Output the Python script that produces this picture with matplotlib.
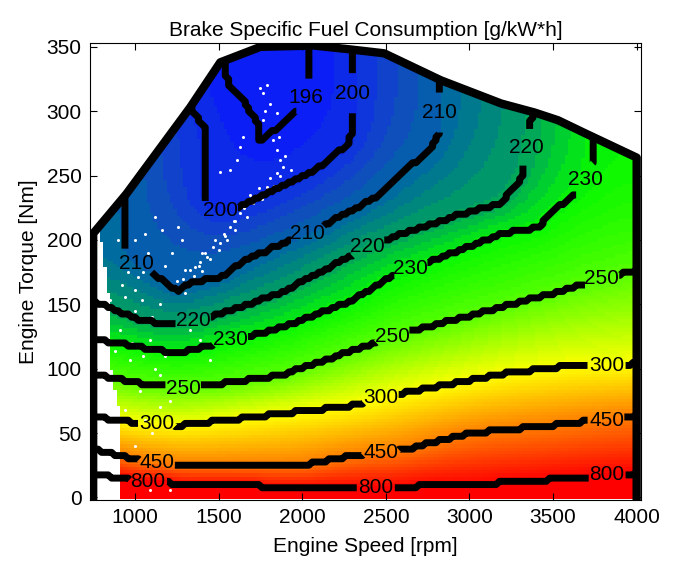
import numpy as np
import matplotlib as mpl
import matplotlib.pyplot as plt
import matplotlib.font_manager as fm
from matplotlib.colors import LinearSegmentedColormap, Normalize
from matplotlib.patches import Polygon

mpl.use('Agg')

# contour levels of the map, g/kWh
levels = [196, 200, 210, 220, 230, 250, 300, 450, 800]

# contour lines: (speed rpm, torque Nm)
line_196 = [(1540, 332), (1570, 319), (1670, 306), (1730, 291), (1750, 278), (1850, 288),
            (1990, 303), (2040, 317), (2040, 348)]
line_200 = [(1350, 301), (1430, 285), (1430, 229), (1510, 222), (1610, 226), (1790, 236),
            (2070, 254), (2270, 275), (2310, 288), (2310, 342)]
line_210 = [(950, 236), (950, 192), (1000, 182), (1100, 176), (1250, 161), (1330, 167),
            (1530, 172), (1620, 182), (1800, 193), (2030, 205), (2470, 236), (2590, 252),
            (2770, 272), (2830, 288), (2820, 324)]
line_220 = [(750, 153), (1030, 138), (1210, 134), (1390, 138), (1870, 159), (2400, 196),
            (2890, 218), (3190, 229), (3310, 249), (3330, 264), (3370, 295)]
line_230 = [(750, 123), (1030, 117), (1250, 112), (1570, 122), (1870, 132), (2290, 153),
            (2490, 169), (2890, 190), (3190, 205), (3410, 210), (3490, 223), (3670, 239),
            (3730, 260), (3730, 280)]
line_250 = [(750, 96), (1030, 89), (1270, 85.5), (1570, 89.5), (1870, 95), (2290, 114),
            (2590, 127.5), (2890, 137.7), (3190, 148), (3490, 158.7), (4000, 177)]
line_300 = [(750, 63), (1030, 57.5), (1270, 56), (1870, 65), (2290, 71.5), (2590, 81),
            (2890, 88.7), (3190, 96), (3490, 101), (4000, 104)]
line_450 = [(750, 38), (1030, 29), (1210, 26), (2030, 26), (2290, 32.7), (2590, 36.5),
            (2990, 50), (3490, 56), (4000, 64)]
line_800 = [(750, 19), (1000, 13), (1500, 9), (2500, 8), (3000, 10), (3500, 14), (4000, 19)]
contour_lines = [line_196, line_200, line_210, line_220, line_230,
                 line_250, line_300, line_450, line_800]

# best point inside the 196 island
best_speed, best_torque, best_bsfc = 1800, 330, 193

# full load curve
wot_speed = [750, 950, 1330, 1510, 1750, 2070, 2290, 2490, 2830, 3190, 3390, 3530, 3690, 4000]
wot_torque = [205, 236, 303, 338, 350, 351, 348, 345, 324, 306, 299, 293, 283, 264]

# low speed edge of the measured map
edge_torque = [0, 44, 62, 75, 99, 122, 138, 169, 200, 240]
edge_speed = [910, 900, 920, 890, 860, 850, 860, 830, 800, 760]

# measured operating points (white dots)
dots_speed = [1330, 1432, 1468, 1510, 1570, 1630, 1708, 1708, 1792, 1852, 1888, 1930, 1870, 1852,
              1828, 1768, 1810, 1852, 1768, 1750, 1648, 1630, 1612, 1570, 1510, 1300, 1360,
              1300, 1018, 1000, 940, 1042, 1120, 1258, 1282, 1162, 1060, 1000, 898, 850, 910,
              1030, 880, 970, 1090, 1180, 910, 1030, 1150, 1270, 940, 1060, 1210, 880, 970,
              1090, 1210, 1390, 1330, 1450, 1390, 1540, 1600, 1400, 1250,
              1290, 1310, 1350, 1380, 1400, 1420, 1450, 1480, 1500, 1530, 1550, 1590, 1600,
              1650, 1670, 1690, 1740, 1760, 1810, 1830, 1870, 1900, 1860, 1780, 1790, 1750,
              1100, 1150, 1180, 1220, 1080, 1050, 960, 920, 1000, 1120, 1050, 980, 1150, 1000, 1100]
dots_torque = [176.6, 186.7, 194.4, 197.6, 210, 220.9, 228.7, 231, 241, 252, 256.7, 254, 262, 270,
               277.7, 314, 306, 298.7, 293, 287.8, 280, 272, 262, 254, 252.8, 176.6, 179,
               158.7, 171, 161, 155.6, 153, 217.8, 210, 200, 207.7, 205, 200, 200, 153, 130,
               138, 114, 106.6, 122, 110, 91, 83, 95, 87, 67.7, 60, 75, 44, 29,
               5.4, 5.4, 122, 130, 106.6, 183, 203, 215, 190, 168,
               170, 165, 172, 180, 176, 190, 185, 200, 192, 205, 200, 215, 208,
               225, 218, 235, 240, 232, 248, 242, 250, 265, 280, 300, 320, 318,
               140, 150, 180, 190, 190, 175, 175, 165, 145, 100, 110, 120, 70, 40, 50]

# ---- build the bsfc surface from the contour lines (Laplace fill) ----
spd = np.arange(700, 4061, 20.0)
trq = np.arange(0, 361, 2.5)
S, T = np.meshgrid(spd, trq)
F = np.full(S.shape, 220.0)
fixed = np.zeros(S.shape, bool)
F[0, :] = 1500.0
fixed[0, :] = True


def burn(pts, val):
    pts = list(pts)
    s0, t0 = pts[0]
    s1, t1 = pts[-1]
    # carry the line out to the edge of the grid
    pts = [(spd[0], t0) if s0 <= 760 else (s0, trq[-1])] + pts
    pts = pts + [(spd[-1], t1) if s1 >= 3990 else (s1, trq[-1])]
    for (a, b), (c, d) in zip(pts[:-1], pts[1:]):
        n = int(max(abs(c - a) / 20, abs(d - b) / 2.5) * 4) + 2
        ss = np.linspace(a, c, n)
        tt = np.linspace(b, d, n)
        j = np.clip(np.round((ss - spd[0]) / 20).astype(int), 0, len(spd) - 1)
        i = np.clip(np.round(tt / 2.5).astype(int), 0, len(trq) - 1)
        F[i, j] = val
        fixed[i, j] = True


for lvl, pts in zip(levels, contour_lines):
    burn(pts, lvl)
bi, bj = int(round(best_torque / 2.5)), int(round((best_speed - spd[0]) / 20))
F[bi, bj] = best_bsfc
fixed[bi, bj] = True

for _ in range(9000):
    P = np.pad(F, 1, mode='edge')
    avg = 0.25 * (P[:-2, 1:-1] + P[2:, 1:-1] + P[1:-1, :-2] + P[1:-1, 2:])
    F = np.where(fixed, F, avg)


def pick(names):
    for n in names:
        try:
            fm.findfont(fm.FontProperties(family=n), fallback_to_default=False)
            return n
        except ValueError:
            pass
    return 'DejaVu Sans'


fam = pick(['Liberation Sans Narrow', 'Liberation Sans'])
fs = 17 if 'Narrow' in fam else 15
plt.rcParams['font.family'] = [fam, 'DejaVu Sans']

cmap = LinearSegmentedColormap.from_list('bsfc', [
    ((v - 196) / 604.0, c) for v, c in [
        (196, '#0a1ef5'), (200, '#0f32e1'), (205, '#104cbe'), (210, '#006aa0'),
        (215, '#00877d'), (220, '#00aa55'), (225, '#00d52a'), (230, '#0af800'),
        (250, '#5aff00'), (300, '#ffff00'), (450, '#ff7d00'), (800, '#ff0000')]])
cmap.set_under('#0a1ef5')
cmap.set_over('#ff0000')

fig = plt.figure(figsize=(6.76, 5.61), dpi=100)
ax = fig.add_axes([90 / 676, 61 / 561, 551 / 676, 457 / 561])

edge = np.interp(T, edge_torque, edge_speed)
Fm = np.ma.masked_where(S < edge, F)
mesh = ax.pcolormesh(spd, trq, Fm, cmap=cmap, norm=Normalize(196, 800), shading='nearest', zorder=1)

clip = Polygon([(wot_speed[0], -5)] + list(zip(wot_speed, wot_torque)) + [(wot_speed[-1], -5)],
               closed=True, transform=ax.transData, facecolor='none', edgecolor='none')
ax.add_patch(clip)
mesh.set_clip_path(clip)

ax.plot(dots_speed, dots_torque, 'o', color='white', markersize=2.2, markeredgewidth=0, zorder=2)

cs = ax.contour(spd, trq, F, levels=levels, colors='k', linewidths=5, zorder=3)
cs.set_clip_path(clip)
label_pos = [(2032, 311), (2290, 314), (1510, 221), (2818, 299), (2032, 205), (988, 179),
             (3328, 272), (2392, 197), (1348, 135), (3688, 248), (2650, 178), (1570, 122),
             (3790, 167), (2542, 127), (1288, 86), (3820, 103), (2470, 78), (1132, 57),
             (3820, 57), (2470, 35), (1132, 27), (3820, 15.5), (2440, 8), (1078, 13)]
texts = ax.clabel(cs, levels, manual=label_pos, inline=True, inline_spacing=1, fmt='%d',
                  fontsize=fs, colors='k')
for t in texts:
    t.set_rotation(0)

ax.plot([wot_speed[0]] + wot_speed + [wot_speed[-1]], [-5] + wot_torque + [-5],
        color='k', linewidth=6, solid_joinstyle='round', zorder=4, clip_on=True)

ax.set_xlim(731, 4026)
ax.set_ylim(-2, 353)
ax.set_xticks(range(1000, 4001, 500))
ax.set_yticks(range(0, 351, 50))
ax.tick_params(direction='in', top=True, right=True, length=5, width=0.8,
               labelsize=fs, pad=6)
for sp in ax.spines.values():
    sp.set_linewidth(0.8)
ax.set_xlabel('Engine Speed [rpm]', fontsize=fs, labelpad=7)
ax.set_ylabel('Engine Torque [Nm]', fontsize=fs, labelpad=6)
ax.set_title('Brake Specific Fuel Consumption [g/kW*h]', fontsize=fs, pad=5)

fig.savefig('out.png', dpi=100)
